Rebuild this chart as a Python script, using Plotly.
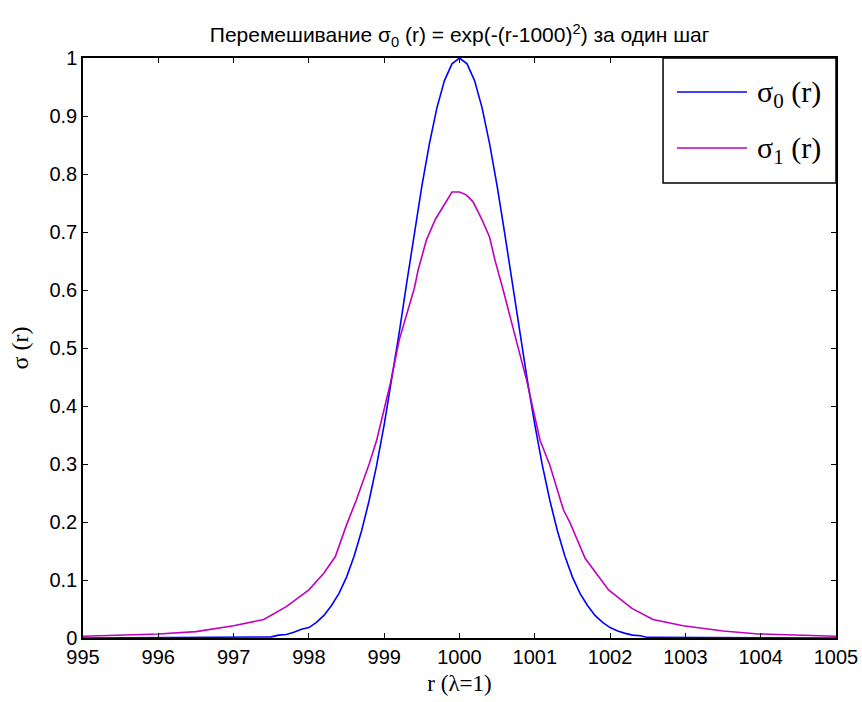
import plotly.graph_objects as go

# radial coordinate r, initial profile sigma_0 and profile after one mixing step sigma_1
r0 = [995.0, 997.5, 997.6, 997.7, 997.8, 997.9, 998.0, 998.1, 998.2, 998.3, 998.4,
      998.5, 998.6, 998.7, 998.8, 998.9, 999.0, 999.1, 999.2, 999.3, 999.4,
      999.5, 999.6, 999.7, 999.8, 999.9, 1000.0, 1000.1, 1000.2, 1000.3, 1000.4,
      1000.5, 1000.6, 1000.7, 1000.8, 1000.9, 1001.0, 1001.1, 1001.2, 1001.3, 1001.4,
      1001.5, 1001.6, 1001.7, 1001.8, 1001.9, 1002.0, 1002.1, 1002.2, 1002.3, 1002.4,
      1002.5, 1005.0]
sigma0 = [0.000, 0.002, 0.005, 0.006, 0.010, 0.015, 0.018, 0.027, 0.039, 0.056, 0.077,
          0.105, 0.141, 0.185, 0.237, 0.298, 0.368, 0.445, 0.527, 0.613, 0.698,
          0.779, 0.852, 0.914, 0.961, 0.990, 1.000, 0.990, 0.961, 0.914, 0.852,
          0.779, 0.698, 0.613, 0.527, 0.445, 0.368, 0.298, 0.237, 0.185, 0.141,
          0.105, 0.077, 0.056, 0.039, 0.027, 0.018, 0.012, 0.008, 0.005, 0.004,
          0.001, 0.000]

r1 = [995.0, 996.0, 996.5, 997.0, 997.4, 997.7, 998.0, 998.2, 998.35, 998.5, 998.63,
      998.8, 998.9, 999.08, 999.2, 999.4, 999.45, 999.56, 999.68, 999.9, 1000.0,
      1000.09, 1000.18, 1000.3, 1000.4, 1000.47, 1000.58, 1000.78, 1000.89, 1001.07, 1001.2,
      1001.38, 1001.47, 1001.67, 1001.98, 1002.29, 1002.57, 1002.97, 1003.5, 1003.97, 1005.0]
sigma1 = [0.003, 0.007, 0.011, 0.021, 0.032, 0.054, 0.083, 0.112, 0.140, 0.195, 0.238,
          0.300, 0.341, 0.438, 0.514, 0.603, 0.634, 0.686, 0.722, 0.769, 0.769,
          0.764, 0.752, 0.721, 0.691, 0.652, 0.600, 0.497, 0.445, 0.341, 0.298,
          0.221, 0.198, 0.137, 0.083, 0.051, 0.032, 0.021, 0.012, 0.007, 0.003]

x_ticks = [995, 996, 997, 998, 999, 1000, 1001, 1002, 1003, 1004, 1005]
y_ticks = [0, 0.1, 0.2, 0.3, 0.4, 0.5, 0.6, 0.7, 0.8, 0.9, 1]
y_ticktext = ["0", "0.1", "0.2", "0.3", "0.4", "0.5", "0.6", "0.7", "0.8", "0.9", "1"]

series_names = ["σ<sub>0</sub> (r)", "σ<sub>1</sub> (r)"]
series_colors = ["#0000FF", "#BF00BF"]

SERIF = "Liberation Serif, Times New Roman, serif"
SANS = "Liberation Sans, Arial, sans-serif"

fig = go.Figure()
for xs, ys, name, color in zip([r0, r1], [sigma0, sigma1], series_names, series_colors):
    fig.add_trace(go.Scatter(x=xs, y=ys, mode="lines", name=name, showlegend=False,
                             line=dict(color=color, width=1.6)))

axis_common = dict(
    showline=True, linecolor="black", linewidth=1.5, mirror="ticks",
    ticks="inside", ticklen=5, tickwidth=1, tickcolor="black",
    showgrid=False, zeroline=False, automargin=False,
    tickfont=dict(family=SANS, size=20, color="black"),
)

fig.update_xaxes(range=[995, 1005], tickvals=x_ticks, ticktext=[str(v) for v in x_ticks],
                 title=dict(text="r (λ=1)", standoff=8,
                            font=dict(family=SERIF, size=23, color="black")),
                 **axis_common)
fig.update_yaxes(range=[0, 1], tickvals=y_ticks, ticktext=y_ticktext,
                 title=dict(text="σ (r)", standoff=14,
                            font=dict(family=SERIF, size=24, color="black")),
                 **axis_common)

# boxed legend in the upper right corner of the axes (paper coordinates)
box = dict(x0=0.7703, x1=1.0, y0=0.7845, y1=1.0)
entry_y = [0.9414, 0.8448]
fig.add_shape(type="rect", xref="paper", yref="paper", layer="above",
              fillcolor="white", line=dict(color="black", width=1.5), **box)
for yy, name, color in zip(entry_y, series_names, series_colors):
    fig.add_shape(type="line", xref="paper", yref="paper", layer="above",
                  x0=0.7888, x1=0.8818, y0=yy, y1=yy, line=dict(color=color, width=1.6))
    fig.add_annotation(xref="paper", yref="paper", x=0.8924, y=yy - 0.004,
                       xanchor="left", yanchor="middle", showarrow=False, text=name,
                       font=dict(family=SERIF, size=30, color="black"))

fig.update_layout(
    width=862, height=702,
    margin=dict(l=83, r=26, t=58, b=64),
    paper_bgcolor="white", plot_bgcolor="white",
    title=dict(text="Перемешивание σ<sub>0</sub> (r) = exp(-(r-1000)<sup>2</sup>) за один шаг",
               x=0.5332, xanchor="center", y=0.95, yanchor="middle", yref="container",
               font=dict(family=SANS, size=21, color="black")),
    showlegend=False,
)

fig.write_html("out.html")
